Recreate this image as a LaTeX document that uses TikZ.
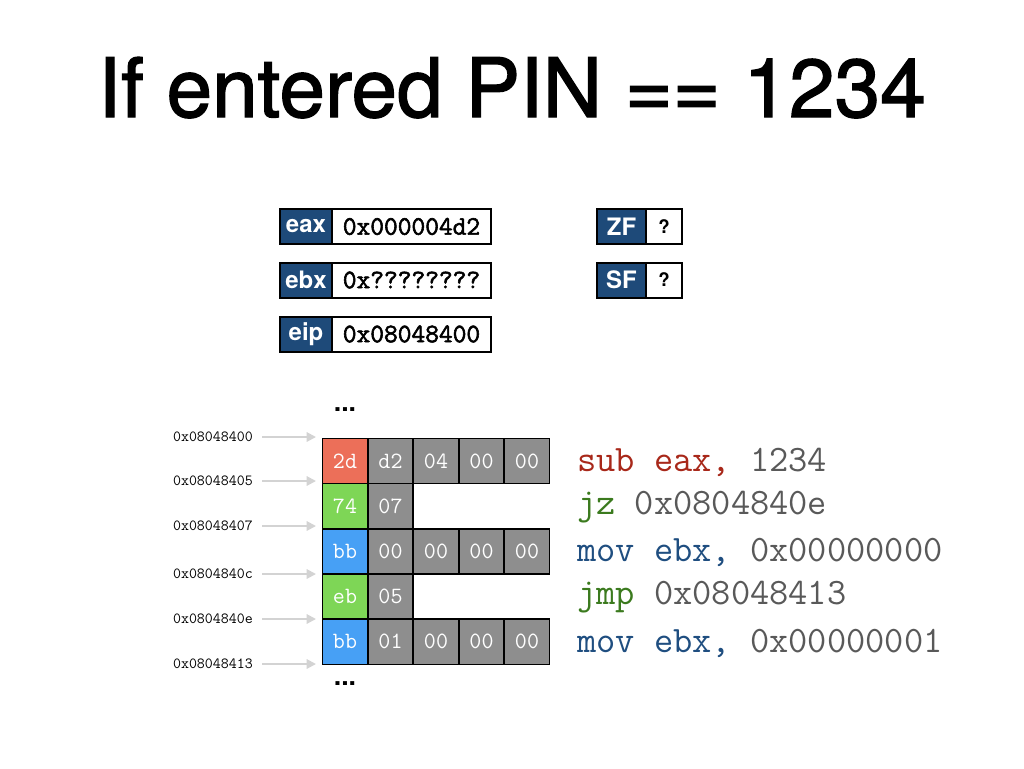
\documentclass[tikz,border=0pt]{standalone}
\usepackage{fontspec}
\setsansfont{TeX Gyre Heros}
\newfontfamily\titlefont{TeX Gyre Heros}[FakeBold=1.6]
\newfontfamily\regmono{Latin Modern Mono}[FakeBold=2.2]
\usetikzlibrary{arrows.meta}
\definecolor{regblue}{HTML}{1E4A79}
\definecolor{cred}{HTML}{EC6F59}
\definecolor{cgreen}{HTML}{7ED656}
\definecolor{cblue}{HTML}{47A0F5}
\definecolor{cgray}{HTML}{8E8E8E}
\definecolor{tred}{HTML}{A8281A}
\definecolor{tgreen}{HTML}{3B7A1E}
\definecolor{tblue}{HTML}{1F4E80}
\definecolor{tgray}{HTML}{595959}
\definecolor{arrgray}{HTML}{D3D3D3}
\tikzset{
  reglab/.style={draw=black, line width=1.5pt, fill=regblue, text=white, inner sep=0pt,
    font=\sffamily\bfseries\fontsize{18}{18}\selectfont, minimum height=26.25pt},
  regval/.style={draw=black, line width=1.5pt, fill=white, inner sep=0pt,
    font=\regmono\fontsize{20}{20}\selectfont, minimum height=26.25pt},
  flagval/.style={draw=black, line width=1.5pt, fill=white, inner sep=0pt,
    font=\sffamily\bfseries\fontsize{14}{14}\selectfont, minimum height=26.25pt},
  cell/.style={draw=black, line width=1.1pt, inner sep=0pt, text=white,
    minimum width=34pt, minimum height=33.9pt, font=\ttfamily\fontsize{17.5}{17.5}\selectfont},
  addr/.style={anchor=east, inner sep=0pt, font=\ttfamily\fontsize{11.6}{11.6}\selectfont},
  code/.style={anchor=west, inner sep=0pt, font=\ttfamily\fontsize{28}{28}\selectfont},
  dots/.style={font=\sffamily\bfseries\fontsize{20}{20}\selectfont, inner sep=0pt},
  ptr/.style={draw=arrgray, line width=1.5pt, -{Triangle[length=7pt,width=7pt]}}
}
\begin{document}
\begin{tikzpicture}[x=0.75pt, y=-0.75pt]
\useasboundingbox (0,0) rectangle (1024,768);
% title
\node[anchor=base, inner sep=0pt, font=\titlefont\fontsize{61.5}{61.5}\selectfont] (title) at (512,117) {If entered PIN == 1234};
% registers
\node[reglab, minimum width=39pt] (eaxl) at (306,226.5) {eax};
\node[regval, minimum width=119.25pt] (eaxv) at (411.5,226.5) {0x000004d2};
\node[reglab, minimum width=39pt] (ebxl) at (306,280) {ebx};
\node[regval, minimum width=119.25pt] (ebxv) at (411.5,280) {0x????????};
\node[reglab, minimum width=39pt] (eipl) at (306,334) {eip};
\node[regval, minimum width=119.25pt] (eipv) at (411.5,334) {0x08048400};
% flags
\node[reglab, minimum width=36.75pt] (zfl) at (621.5,226.5) {ZF};
\node[flagval, minimum width=27pt] (zfv) at (664,226.5) {?};
\node[reglab, minimum width=36.75pt] (sfl) at (621.5,280) {SF};
\node[flagval, minimum width=27pt] (sfv) at (664,280) {?};
% memory
\node[dots] (dtop) at (345,410) {...};
\node[dots] (dbot) at (345,684) {...};
% row 1
\node[cell, fill=cred] (c11) at (345,461) {2d};
\node[cell, fill=cgray] (c12) at (390.5,461) {d2};
\node[cell, fill=cgray] (c13) at (436,461) {04};
\node[cell, fill=cgray] (c14) at (481.5,461) {00};
\node[cell, fill=cgray] (c15) at (527,461) {00};
% row 2
\node[cell, fill=cgreen] (c21) at (345,506.2) {74};
\node[cell, fill=cgray] (c22) at (390.5,506.2) {07};
% row 3
\node[cell, fill=cblue] (c31) at (345,551.4) {bb};
\node[cell, fill=cgray] (c32) at (390.5,551.4) {00};
\node[cell, fill=cgray] (c33) at (436,551.4) {00};
\node[cell, fill=cgray] (c34) at (481.5,551.4) {00};
\node[cell, fill=cgray] (c35) at (527,551.4) {00};
% row 4
\node[cell, fill=cgreen] (c41) at (345,596.6) {eb};
\node[cell, fill=cgray] (c42) at (390.5,596.6) {05};
% row 5
\node[cell, fill=cblue] (c51) at (345,641.8) {bb};
\node[cell, fill=cgray] (c52) at (390.5,641.8) {01};
\node[cell, fill=cgray] (c53) at (436,641.8) {00};
\node[cell, fill=cgray] (c54) at (481.5,641.8) {00};
\node[cell, fill=cgray] (c55) at (527,641.8) {00};
% addresses
\node[addr] (a1) at (253,437) {0x08048400};
\node[addr] (a2) at (253,481) {0x08048405};
\node[addr] (a3) at (253,526) {0x08048407};
\node[addr] (a4) at (253,574) {0x0804840c};
\node[addr] (a5) at (253,619) {0x0804840e};
\node[addr] (a6) at (253,664) {0x08048413};
\coordinate (p1) at (316,438);
\coordinate (p2) at (316,483);
\coordinate (p3) at (316,528);
\coordinate (p4) at (316,574);
\coordinate (p5) at (316,619);
\coordinate (p6) at (316,664);
\foreach \i in {1,...,6} {
  \draw[ptr] (a\i.east) ++(9,0) coordinate (s\i) -- (s\i -| p\i);
}
% code
\node[code] (l1) at (577,462) {\textcolor{tred}{sub eax,} \textcolor{tgray}{1234}};
\node[code] (l2) at (577,507) {\textcolor{tgreen}{jz} \textcolor{tgray}{0x0804840e}};
\node[code] (l3) at (577,552) {\textcolor{tblue}{mov ebx,} \textcolor{tgray}{0x00000000}};
\node[code] (l4) at (577,597) {\textcolor{tgreen}{jmp} \textcolor{tgray}{0x08048413}};
\node[code] (l5) at (577,643) {\textcolor{tblue}{mov ebx,} \textcolor{tgray}{0x00000001}};
\end{tikzpicture}
\end{document}
